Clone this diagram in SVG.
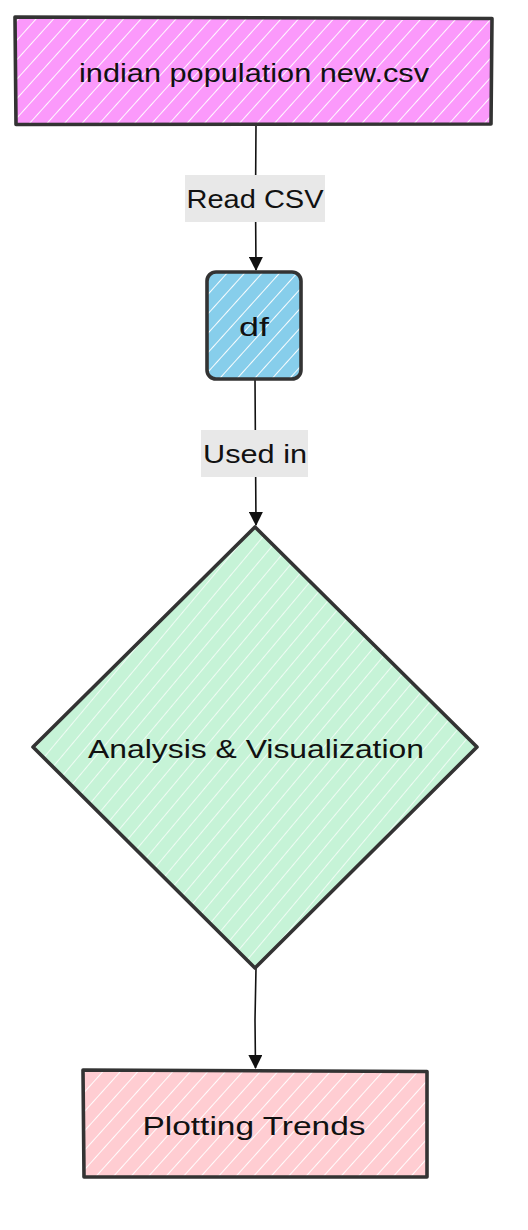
<svg xmlns="http://www.w3.org/2000/svg" width="528" height="1230" viewBox="0 0 528 1230">
<style>
.nodebox{stroke:#333;stroke-width:3.6;stroke-linejoin:round}
.lbl{font-family:"Comic Sans MS","Liberation Sans",sans-serif;font-size:26px;fill:#111;text-anchor:middle;dominant-baseline:central}
.edge{fill:none;stroke:#111;stroke-width:1.6}
.elbg{fill:#e8e8e8}
</style>
<defs>
<pattern id="hatch" patternUnits="userSpaceOnUse" width="13" height="13" patternTransform="rotate(42)">
<line x1="0" y1="0" x2="0" y2="13" stroke="#fff" stroke-width="2" opacity="0.95"/>
</pattern>
<pattern id="hatch2" patternUnits="userSpaceOnUse" width="13" height="13" patternTransform="rotate(40)">
<line x1="0" y1="0" x2="0" y2="13" stroke="#fff" stroke-width="1.6" opacity="0.9"/>
</pattern>
<marker id="arrow" viewBox="0 0 14 14" refX="13" refY="7" markerWidth="14" markerHeight="14" markerUnits="userSpaceOnUse" orient="auto">
<path d="M0,0 L14,7 L0,14 z" fill="#111"/>
</marker>
</defs>

<g id="edges">
<path class="edge" d="M256,124 L255.5,200 L256,270" marker-end="url(#arrow)"/>
<path class="edge" d="M255,379 L255.5,455 L256,525" marker-end="url(#arrow)"/>
<path class="edge" d="M256,968 L255,1020 L255.5,1068" marker-end="url(#arrow)"/>
<g id="label-read">
<rect class="elbg" x="185" y="175" width="140" height="47"/>
<text class="lbl" x="255" y="199" textLength="137" lengthAdjust="spacingAndGlyphs">Read CSV</text>
</g>
<g id="label-used">
<rect class="elbg" x="201" y="430" width="107" height="47"/>
<text class="lbl" x="255" y="454" textLength="104" lengthAdjust="spacingAndGlyphs">Used in</text>
</g>
</g>

<g id="node-csv">
<rect x="16" y="17" width="476" height="107" fill="#fb99fb"/>
<rect x="16" y="17" width="476" height="107" fill="url(#hatch)"/>
<path class="nodebox" fill="none" d="M15,17 L492,18.5 L491,124 L16,124.5 Z"/>
<text class="lbl" x="254" y="73" textLength="350" lengthAdjust="spacingAndGlyphs">indian population new.csv</text>
</g>

<g id="node-df">
<rect x="207" y="272" width="94" height="107" rx="9" fill="#87ceeb"/>
<rect x="207" y="272" width="94" height="107" rx="9" fill="url(#hatch)"/>
<rect class="nodebox" fill="none" x="207" y="272" width="94" height="107" rx="9"/>
<text class="lbl" x="254" y="327" textLength="30" lengthAdjust="spacingAndGlyphs">df</text>
</g>

<g id="node-analysis">
<path d="M255,527 L477,747 L255,968 L33,747 Z" fill="#c6f3d7"/>
<path d="M255,527 L477,747 L255,968 L33,747 Z" fill="url(#hatch2)"/>
<path class="nodebox" fill="none" d="M255,527 L477,747 L255,968 L33,747 Z"/>
<text class="lbl" x="256" y="749" textLength="336" lengthAdjust="spacingAndGlyphs">Analysis &amp; Visualization</text>
</g>

<g id="node-plot">
<rect x="83" y="1070" width="344" height="107" fill="#ffcdd2"/>
<rect x="83" y="1070" width="344" height="107" fill="url(#hatch)"/>
<path class="nodebox" fill="none" d="M83,1070 L427,1071.5 L427,1177 L84,1177 Z"/>
<text class="lbl" x="254" y="1126" textLength="223" lengthAdjust="spacingAndGlyphs">Plotting Trends</text>
</g>
</svg>
